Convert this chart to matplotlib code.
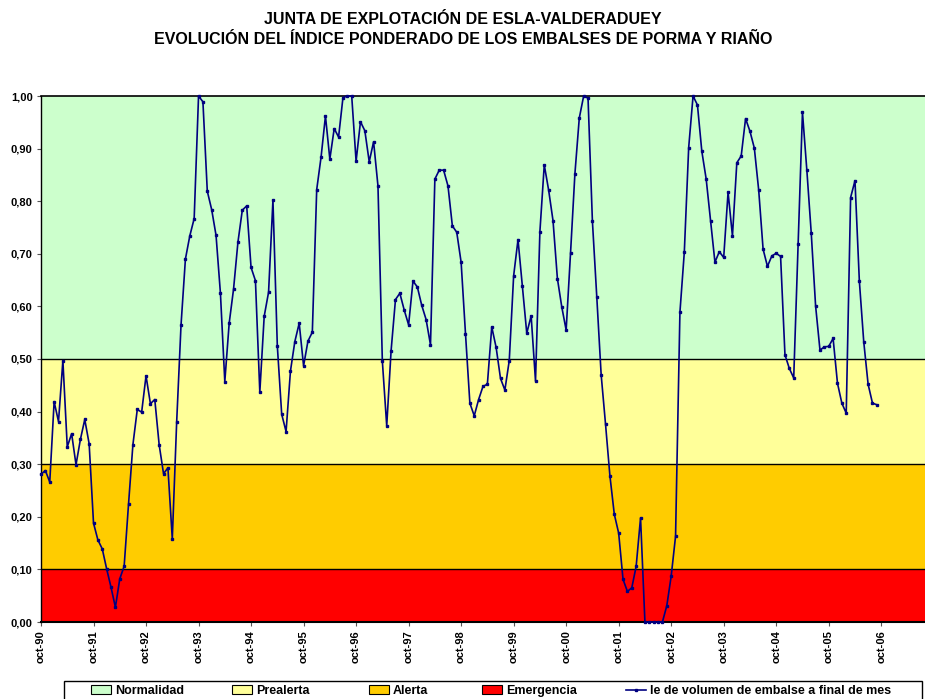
import matplotlib
matplotlib.use("Agg")
from matplotlib import pyplot as plt
from matplotlib.patches import Patch, Rectangle
from matplotlib.lines import Line2D
from matplotlib.ticker import FuncFormatter

plt.rcParams['font.family'] = ['Liberation Sans', 'DejaVu Sans']

# indice ponderado mensual, oct-90 .. sep-06
indice = [
    0.281, 0.288, 0.266, 0.419, 0.381, 0.497, 0.333, 0.358, 0.299, 0.347, 0.385, 0.339,
    0.188, 0.156, 0.139, 0.101, 0.066, 0.028, 0.082, 0.106, 0.224, 0.337, 0.404, 0.399,
    0.468, 0.415, 0.423, 0.337, 0.282, 0.293, 0.158, 0.380, 0.565, 0.690, 0.734, 0.767,
    1.000, 0.989, 0.819, 0.784, 0.735, 0.625, 0.457, 0.568, 0.633, 0.722, 0.783, 0.791,
    0.674, 0.649, 0.437, 0.581, 0.627, 0.802, 0.525, 0.395, 0.362, 0.477, 0.533, 0.568,
    0.487, 0.534, 0.551, 0.822, 0.884, 0.962, 0.880, 0.938, 0.922, 0.997, 1.000, 1.000,
    0.876, 0.951, 0.934, 0.875, 0.913, 0.829, 0.496, 0.373, 0.516, 0.613, 0.625, 0.593,
    0.565, 0.648, 0.637, 0.602, 0.575, 0.527, 0.842, 0.859, 0.859, 0.829, 0.753, 0.741,
    0.684, 0.548, 0.416, 0.392, 0.423, 0.448, 0.452, 0.561, 0.522, 0.463, 0.441, 0.497,
    0.658, 0.727, 0.639, 0.549, 0.582, 0.458, 0.742, 0.869, 0.821, 0.763, 0.653, 0.599,
    0.555, 0.701, 0.852, 0.958, 1.000, 0.996, 0.762, 0.618, 0.470, 0.376, 0.278, 0.205,
    0.169, 0.081, 0.058, 0.065, 0.106, 0.198, 0.000, 0.000, 0.000, 0.000, 0.000, 0.031,
    0.087, 0.163, 0.589, 0.703, 0.902, 1.000, 0.983, 0.895, 0.842, 0.763, 0.684, 0.704,
    0.693, 0.817, 0.734, 0.873, 0.886, 0.957, 0.933, 0.901, 0.821, 0.709, 0.676, 0.696,
    0.701, 0.695, 0.508, 0.482, 0.464, 0.718, 0.969, 0.859, 0.740, 0.601, 0.517, 0.523,
    0.524, 0.539, 0.454, 0.416, 0.397, 0.807, 0.839, 0.648, 0.533, 0.452, 0.416, 0.413,
]

etiquetas = ['oct-90', 'oct-91', 'oct-92', 'oct-93', 'oct-94', 'oct-95', 'oct-96', 'oct-97',
             'oct-98', 'oct-99', 'oct-00', 'oct-01', 'oct-02', 'oct-03', 'oct-04', 'oct-05',
             'oct-06']

# umbrales de los escenarios
bandas = [
    ('Normalidad', 0.5, 1.0, '#CCFFCC'),
    ('Prealerta', 0.3, 0.5, '#FFFF99'),
    ('Alerta', 0.1, 0.3, '#FFCC00'),
    ('Emergencia', 0.0, 0.1, '#FF0000'),
]
serie_nombre = 'le de volumen de embalse a final de mes'
LINEA = '#000080'

W, H = 925, 699
fig = plt.figure(figsize=(W / 100, H / 100), dpi=100)
ax = fig.add_axes([41 / W, 1 - 622 / H, 1 - 41 / W, (622 - 96) / H])

for nombre, lo, hi, color in bandas:
    ax.axhspan(lo, hi, color=color, zorder=0, lw=0)
for lo in (0.1, 0.3, 0.5):
    ax.axhline(lo, color='black', lw=1.0, zorder=1)

meses = list(range(len(indice)))
ax.plot(meses, indice, color=LINEA, lw=1.2, marker='s', ms=1.8, zorder=3, clip_on=False)

ax.set_xlim(0, 202)
ax.set_ylim(0, 1.0)
ax.set_yticks([i / 10 for i in range(11)])
ax.yaxis.set_major_formatter(FuncFormatter(lambda v, p: ('%.2f' % v).replace('.', ',')))
ax.set_xticks(range(0, 12 * len(etiquetas), 12))
ax.set_xticklabels(etiquetas, rotation=90)
ax.tick_params(axis='both', labelsize=8, length=3, width=0.8, color='#555555')
for lbl in ax.get_xticklabels() + ax.get_yticklabels():
    lbl.set_fontweight('bold')
ax.tick_params(axis='y', pad=3)
ax.tick_params(axis='x', pad=3)

ax.spines['right'].set_visible(False)
ax.spines['top'].set_linewidth(1.2)
ax.spines['bottom'].set_linewidth(1.5)
ax.spines['left'].set_linewidth(1.0)

fig.text(463 / W, 1 - 20 / H, 'JUNTA DE EXPLOTACIÓN DE ESLA-VALDERADUEY',
         ha='center', va='center', fontsize=11.5, fontweight='bold')
fig.text(463 / W, 1 - 39 / H, 'EVOLUCIÓN DEL ÍNDICE PONDERADO DE LOS EMBALSES DE PORMA Y RIAÑO',
         ha='center', va='center', fontsize=11.5, fontweight='bold')

# leyenda: marco y una entrada por posicion
fig.patches.append(Rectangle((64 / W, -0.02), (922 - 64) / W, (699 - 681) / H + 0.02,
                             transform=fig.transFigure, fill=False, edgecolor='black',
                             lw=1.0, zorder=5))
handles = [Patch(facecolor=c, edgecolor='black', lw=0.8) for _, _, _, c in bandas]
handles.append(Line2D([], [], color=LINEA, lw=1.2, marker='s', ms=1.8))
nombres = [b[0] for b in bandas] + [serie_nombre]
pos_x = [91, 232, 369, 482, 626]
for h, n, px in zip(handles, nombres, pos_x):
    fig.legend([h], [n], loc='center left', bbox_to_anchor=(px / W, 1 - 691 / H),
               frameon=False, handlelength=1.6, handleheight=0.7, handletextpad=0.3,
               borderpad=0, borderaxespad=0, prop={'weight': 'bold', 'size': 9})

fig.savefig('out.png', dpi=100)
